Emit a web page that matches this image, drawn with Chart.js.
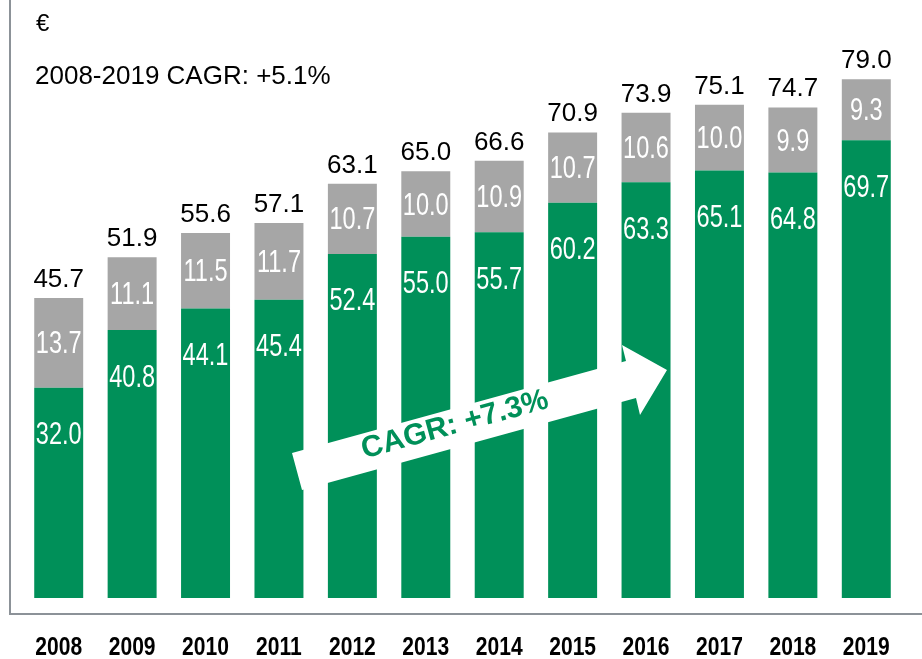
<!DOCTYPE html>
<html>
<head>
<meta charset="utf-8">
<script src="https://cdn.jsdelivr.net/npm/chart.js@4/dist/chart.umd.min.js"></script>
<style>
  html, body { margin: 0; padding: 0; background: #ffffff; }
  #wrap { position: relative; width: 922px; height: 659px; }
</style>
</head>
<body>
<div id="wrap"><canvas id="c" width="922" height="659"></canvas></div>
<script>
const years = ['2008','2009','2010','2011','2012','2013','2014','2015','2016','2017','2018','2019'];
const greenValues = [32.0, 40.8, 44.1, 45.4, 52.4, 55.0, 55.7, 60.2, 63.3, 65.1, 64.8, 69.7];
const grayValues  = [13.7, 11.1, 11.5, 11.7, 10.7, 10.0, 10.9, 10.7, 10.6, 10.0, 9.9, 9.3];
const totalValues = [45.7, 51.9, 55.6, 57.1, 63.1, 65.0, 66.6, 70.9, 73.9, 75.1, 74.7, 79.0];
const unitLabel = '€';
const overallCagr = '2008-2019 CAGR: +5.1%';
const arrowCagr = 'CAGR: +7.3%';

const GREEN = '#009059';
const GRAY = '#a6a6a6';

function narrowText(ctx, text, x, y, sx) {
  ctx.save();
  ctx.translate(x, y);
  ctx.scale(sx, 1);
  ctx.fillText(text, 0, 0);
  ctx.restore();
}

const decorPlugin = {
  id: 'decor',
  beforeDraw(chart) {
    const ctx = chart.ctx;
    ctx.save();
    ctx.strokeStyle = '#8c9298';
    ctx.lineWidth = 2;
    ctx.beginPath();
    ctx.moveTo(10, 0);
    ctx.lineTo(10, 614);
    ctx.lineTo(922, 614);
    ctx.stroke();
    ctx.fillStyle = '#000';
    ctx.textBaseline = 'alphabetic';
    ctx.textAlign = 'left';
    ctx.font = '24px "Liberation Sans", Arial, sans-serif';
    ctx.fillText(unitLabel, 36, 31);
    ctx.font = '26px "Liberation Sans", Arial, sans-serif';
    ctx.fillText(overallCagr, 35, 84);
    ctx.restore();
  },
  afterDatasetsDraw(chart) {
    const ctx = chart.ctx;
    const g = chart.getDatasetMeta(0).data;
    const r = chart.getDatasetMeta(1).data;
    const xs = chart.scales.x;
    ctx.save();
    ctx.textAlign = 'center';
    // green labels
    ctx.fillStyle = '#ffffff';
    ctx.textBaseline = 'middle';
    ctx.font = '31px "Liberation Sans", Arial, sans-serif';
    g.forEach((bar, i) => {
      narrowText(ctx, greenValues[i].toFixed(1), bar.x, bar.y + 48, 0.76);
    });
    r.forEach((bar, i) => {
      narrowText(ctx, grayValues[i].toFixed(1), bar.x, (bar.y + bar.base) / 2 + 2, 0.76);
    });
    // totals
    ctx.fillStyle = '#000000';
    ctx.textBaseline = 'alphabetic';
    ctx.font = '26px "Liberation Sans", Arial, sans-serif';
    r.forEach((bar, i) => {
      ctx.fillText(totalValues[i].toFixed(1), bar.x, bar.y - 11);
    });
    // category labels
    ctx.font = 'bold 26px "Liberation Sans", Arial, sans-serif';
    ctx.textBaseline = 'alphabetic';
    years.forEach((yr, i) => {
      narrowText(ctx, yr, xs.getPixelForTick(i), 655, 0.81);
    });
    // arrow
    ctx.fillStyle = '#ffffff';
    ctx.beginPath();
    ctx.moveTo(302, 490);
    ctx.lineTo(292, 453);
    ctx.lineTo(626, 361);
    ctx.lineTo(622, 345);
    ctx.lineTo(667, 370);
    ctx.lineTo(640, 415);
    ctx.lineTo(636, 398);
    ctx.closePath();
    ctx.fill();
    ctx.translate(455, 425);
    ctx.rotate(-15.4 * Math.PI / 180);
    ctx.fillStyle = GREEN;
    ctx.textAlign = 'center';
    ctx.textBaseline = 'middle';
    ctx.font = 'bold 30px "Liberation Sans", Arial, sans-serif';
    ctx.fillText(arrowCagr, 0, 0);
    ctx.restore();
  }
};

new Chart(document.getElementById('c'), {
  type: 'bar',
  data: {
    labels: years,
    datasets: [
      { label: 'green', data: greenValues, backgroundColor: GREEN, borderWidth: 0, barPercentage: 0.667, categoryPercentage: 1.0 },
      { label: 'gray', data: grayValues, backgroundColor: GRAY, borderWidth: 0, barPercentage: 0.667, categoryPercentage: 1.0 }
    ]
  },
  options: {
    responsive: false,
    animation: false,
    devicePixelRatio: 1,
    layout: { autoPadding: false, padding: { left: 22, right: 19, top: 7, bottom: 0 } },
    plugins: { legend: { display: false }, tooltip: { enabled: false } },
    scales: {
      x: {
        stacked: true,
        grid: { display: false, drawTicks: false },
        border: { display: false },
        ticks: { display: false },
        afterFit(scale) { scale.height = 61; }
      },
      y: {
        stacked: true,
        display: false,
        min: 0,
        max: 90
      }
    }
  },
  plugins: [decorPlugin]
});
</script>
</body>
</html>
